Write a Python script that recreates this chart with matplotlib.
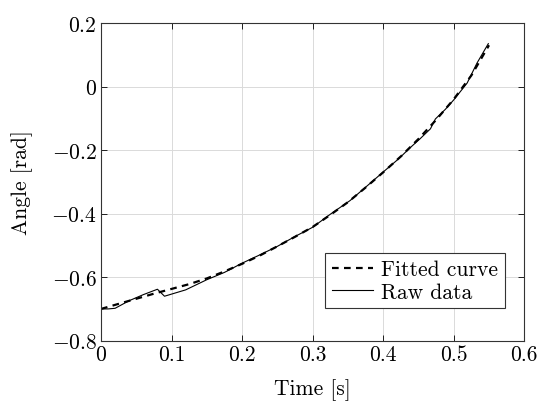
import numpy as np
import matplotlib
matplotlib.use("Agg")
import matplotlib.pyplot as plt

plt.rcParams['font.family'] = 'serif'
plt.rcParams['font.serif'] = ['cmr10', 'DejaVu Serif']
plt.rcParams['mathtext.fontset'] = 'cm'
plt.rcParams['axes.formatter.use_mathtext'] = True
plt.rcParams['axes.unicode_minus'] = True

# fitted curve
fit_t = [0.0, 0.025, 0.05, 0.075, 0.1, 0.125, 0.15, 0.175, 0.2, 0.225, 0.25,
         0.275, 0.3, 0.325, 0.35, 0.375, 0.4, 0.425, 0.45, 0.475, 0.5, 0.525, 0.55]
fit_angle = [-0.700, -0.684, -0.668, -0.652, -0.637, -0.622, -0.604, -0.582, -0.558,
             -0.532, -0.503, -0.473, -0.442, -0.404, -0.364, -0.318, -0.270, -0.220,
             -0.165, -0.105, -0.040, 0.035, 0.130]

# raw measurement
raw_t = [0.0, 0.01, 0.02, 0.04, 0.06, 0.08, 0.09, 0.12, 0.15, 0.175, 0.2, 0.225,
         0.25, 0.275, 0.3, 0.325, 0.353, 0.375, 0.4, 0.419, 0.424, 0.438, 0.452,
         0.467, 0.474, 0.488, 0.5, 0.519, 0.533, 0.549]
raw_angle = [-0.700, -0.700, -0.698, -0.674, -0.655, -0.638, -0.660, -0.640, -0.608,
             -0.585, -0.556, -0.530, -0.503, -0.472, -0.443, -0.402, -0.359, -0.317,
             -0.269, -0.233, -0.223, -0.193, -0.165, -0.133, -0.102, -0.072, -0.042,
             0.011, 0.074, 0.135]

x_ticks = [0, 0.1, 0.2, 0.3, 0.4, 0.5, 0.6]
y_ticks = [-0.8, -0.6, -0.4, -0.2, 0, 0.2]
x_tick_labels = ['0', '0.1', '0.2', '0.3', '0.4', '0.5', '0.6']
y_tick_labels = ['$-0.8$', '$-0.6$', '$-0.4$', '$-0.2$', '$0$', '$0.2$']

FS = 15.5

fig = plt.figure(figsize=(5.39, 4.02), dpi=100)
ax = fig.add_axes([0.1874, 0.15, 0.9727 - 0.1874, 0.9403 - 0.15])

ax.plot(fit_t, fit_angle, color='black', lw=1.6, ls=(0, (3.0, 2.4)), label='Fitted curve')
ax.plot(raw_t, raw_angle, color='black', lw=0.8, label='Raw data')

ax.set_xlim(0, 0.6)
ax.set_ylim(-0.8, 0.2)
ax.set_xticks(x_ticks)
ax.set_xticklabels(x_tick_labels)
ax.set_yticks(y_ticks)
ax.set_yticklabels(y_tick_labels)
ax.grid(True, color='#dadada', lw=0.7)
ax.set_axisbelow(True)
ax.tick_params(direction='in', length=4, width=0.6, top=True, right=True,
               labelsize=FS, colors='black', pad=3)
for s in ax.spines.values():
    s.set_linewidth(0.8)
    s.set_color('#333333')

ax.set_xlabel('Time [s]', fontsize=FS, labelpad=10)
ax.set_ylabel('Angle [rad]', fontsize=FS, labelpad=13)

leg = ax.legend(loc='lower right', bbox_to_anchor=(0.954, 0.102), fontsize=FS,
                fancybox=False, framealpha=1, edgecolor='#333333',
                handlelength=1.9, handletextpad=0.4, borderpad=0.3,
                labelspacing=0.15, borderaxespad=0)
leg.get_frame().set_linewidth(0.8)

fig.savefig('out.png', dpi=100)
